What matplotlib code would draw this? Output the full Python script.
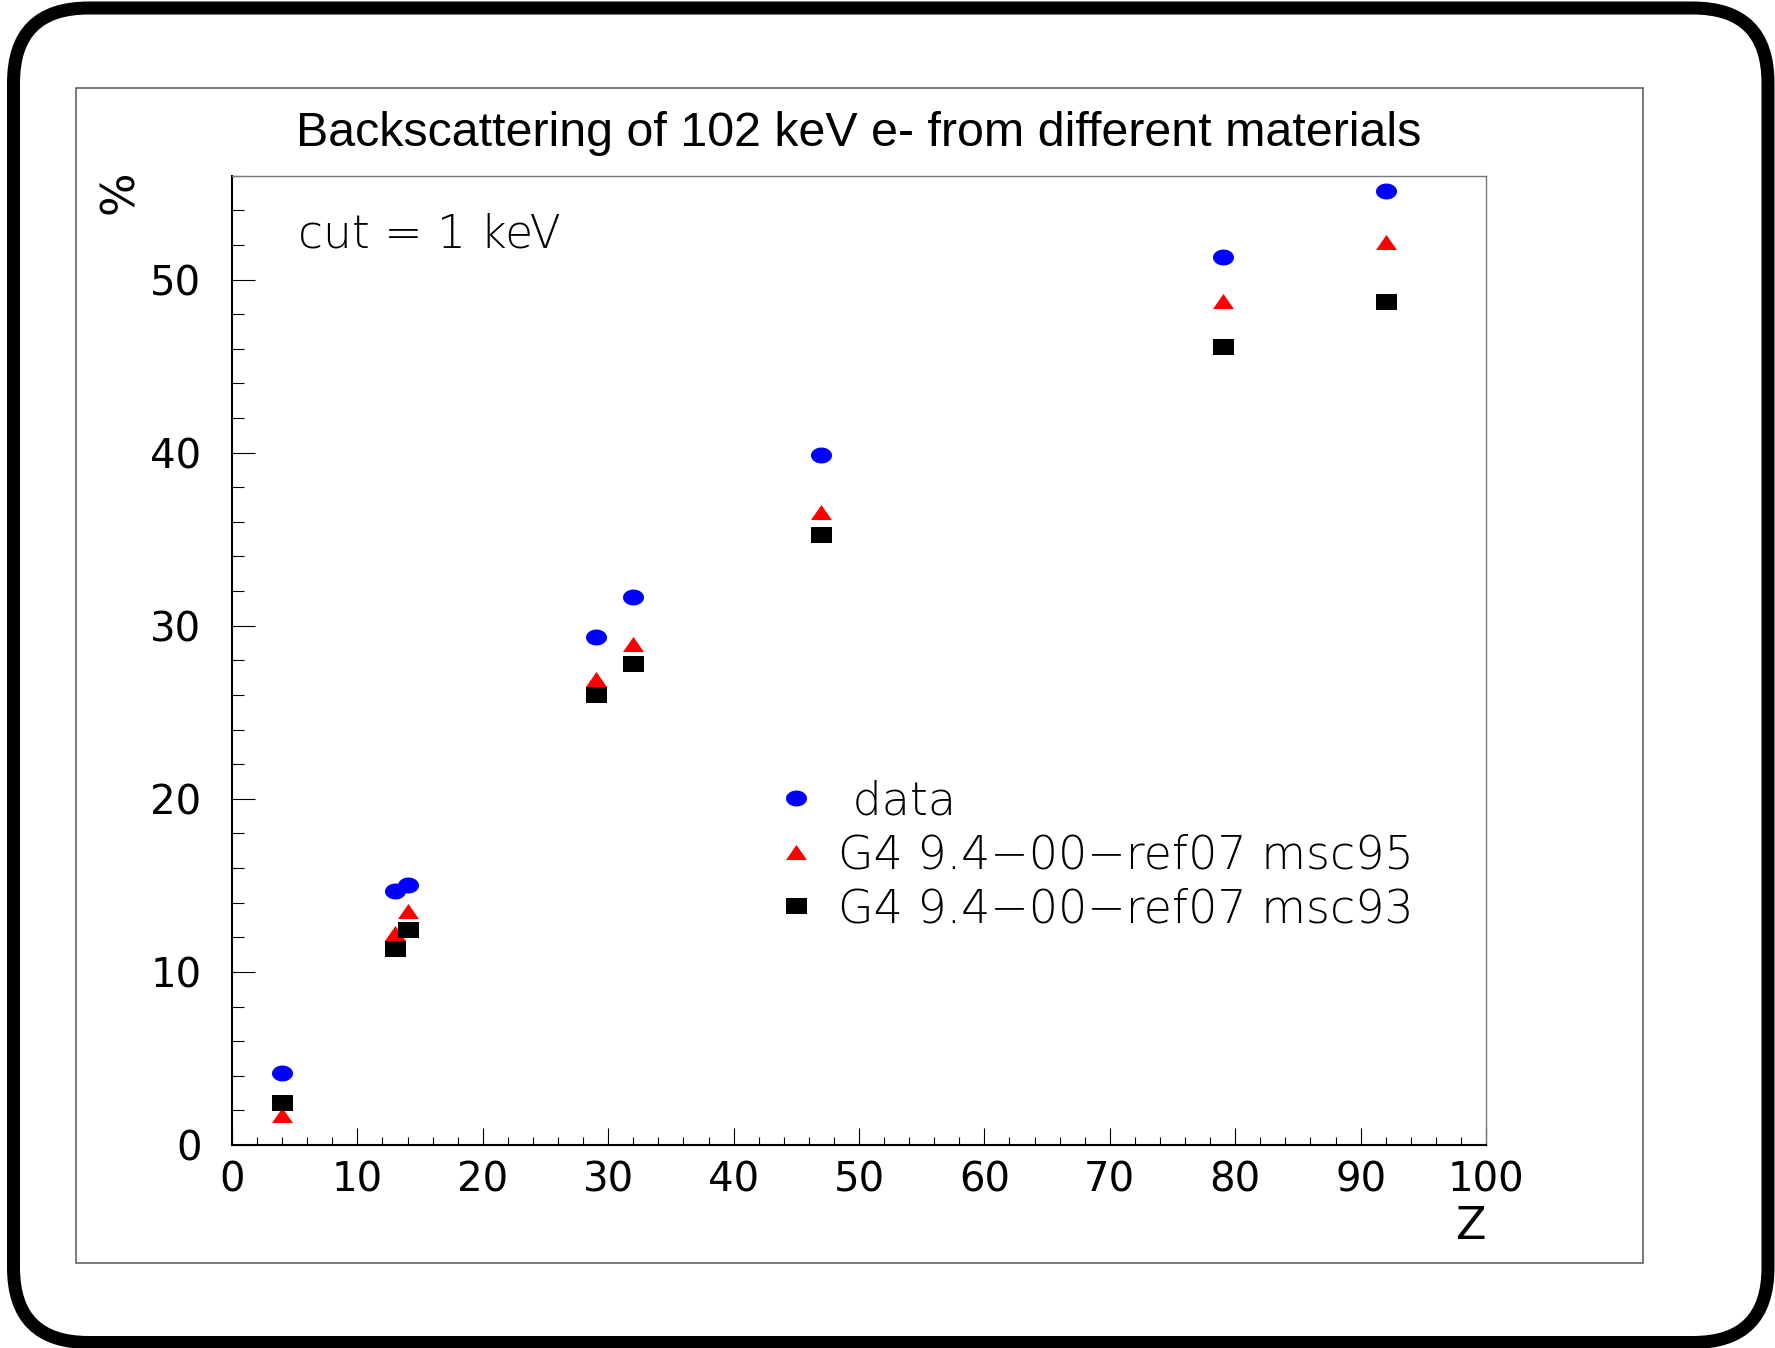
import numpy as np
import matplotlib
matplotlib.use("Agg")
import matplotlib.pyplot as plt
import matplotlib.font_manager as fm
from matplotlib.path import Path
from matplotlib.patches import FancyBboxPatch, Rectangle
from matplotlib.transforms import IdentityTransform
from matplotlib.ticker import MultipleLocator

# ---------------- data ----------------
Z = [4, 13, 14, 29, 32, 47, 79, 92]
data_vals = [4.15, 14.67, 15.04, 29.35, 31.66, 39.87, 51.28, 55.10]
msc95_vals = [1.72, 12.24, 13.53, 26.95, 28.96, 36.58, 48.76, 52.17]
msc93_vals = [2.44, 11.34, 12.43, 25.98, 27.79, 35.25, 46.08, 48.68]
labels = [" data", "G4 9.4\u221200\u2212ref07 msc95", "G4 9.4\u221200\u2212ref07 msc93"]
title = "Backscattering of 102 keV e- from different materials"
note = "cut = 1 keV"
xticks = [0, 10, 20, 30, 40, 50, 60, 70, 80, 90, 100]
yticks = [0, 10, 20, 30, 40, 50]

W, H = 1775, 1348
fig = plt.figure(figsize=(W / 100, H / 100), dpi=100)

# thin font lookup
def find_thin():
    prefs = ['DejaVu Sans', 'Open Sans', 'Lato', 'Roboto', 'Inter', 'Noto Sans']
    for fam in prefs:
        cands = []
        for f in fm.fontManager.ttflist:
            w = f.weight
            if isinstance(w, str):
                w = fm.weight_dict.get(w, 400)
            if f.name == fam and f.style == 'normal' and w <= 300:
                cands.append((abs(w - 250), f.fname))
        if cands:
            cands.sort()
            return cands[0][1]
    return None

thin_file = find_thin()
def thin_prop(size):
    if thin_file:
        return fm.FontProperties(fname=thin_file, size=size)
    return fm.FontProperties(family='DejaVu Sans', size=size)

# ---------------- frames ----------------
frame = FancyBboxPatch((13.5, H - 1342.5), 1768 - 13.5, 1342.5 - 8,
                       boxstyle="round,pad=0,rounding_size=75",
                       transform=IdentityTransform(), fill=False,
                       edgecolor='black', linewidth=13 * 0.72)
fig.add_artist(frame)
inner = Rectangle((76, H - 1262.5), 1643 - 76, 1262.5 - 87.5,
                  transform=IdentityTransform(), fill=False,
                  edgecolor='#555555', linewidth=1.1)
fig.add_artist(inner)

# ---------------- axes ----------------
left, right = 232 / W, 1486 / W
bottom, top = 1 - 1145 / H, 1 - 175.7 / H
ax = fig.add_axes([left, bottom, right - left, top - bottom])
ax.set_xlim(0, 100)
ax.set_ylim(0, 56)

# markers (ellipse / square / triangle, horizontally stretched)
t = np.linspace(0, 2 * np.pi, 60)
ell = Path(np.column_stack([np.cos(t), 0.76 * np.sin(t)]), closed=True)
sq = Path([(-1, -0.76), (1, -0.76), (1, 0.76), (-1, 0.76), (-1, -0.76)], closed=True)
tri = Path([(-1, -0.72), (1, -0.72), (0, 0.72), (-1, -0.72)], closed=True)
ms = 21 * 0.72

h1, = ax.plot(Z, data_vals, linestyle='none', marker=ell, markersize=ms,
              color='#0000ff', markeredgewidth=0, label=labels[0], clip_on=False)
h2, = ax.plot(Z, msc95_vals, linestyle='none', marker=tri, markersize=ms,
              color='#ff0000', markeredgewidth=0, label=labels[1], clip_on=False)
h3, = ax.plot(Z, msc93_vals, linestyle='none', marker=sq, markersize=ms,
              color='#000000', markeredgewidth=0, label=labels[2], clip_on=False)

# spines
for s in ['left', 'bottom']:
    ax.spines[s].set_linewidth(1.5)
    ax.spines[s].set_color('black')
for s in ['top', 'right']:
    ax.spines[s].set_linewidth(1.0)
    ax.spines[s].set_color('#777777')

ax.xaxis.set_major_locator(MultipleLocator(10))
ax.xaxis.set_minor_locator(MultipleLocator(2))
ax.yaxis.set_major_locator(MultipleLocator(10))
ax.yaxis.set_minor_locator(MultipleLocator(2))
ax.set_xticks(xticks)
ax.set_yticks(yticks)
ax.set_xticklabels([str(v) for v in xticks])
ax.set_yticklabels([str(v) for v in yticks])

tickfont = 29
ax.tick_params(axis='x', which='major', direction='in', length=17 * 0.72, width=0.8,
               labelsize=tickfont, pad=11, top=False)
ax.tick_params(axis='x', which='minor', direction='in', length=8 * 0.72, width=0.8, top=False)
ax.tick_params(axis='y', which='major', direction='in', length=23 * 0.72, width=0.8,
               labelsize=tickfont, pad=22, right=False)
ax.tick_params(axis='y', which='minor', direction='in', length=12 * 0.72, width=0.8, right=False)
for lab in ax.get_xticklabels() + ax.get_yticklabels():
    lab.set_family('DejaVu Sans')

# axis labels
ax.set_xlabel('Z', fontsize=32, family='DejaVu Sans')
ax.xaxis.set_label_coords(1.0, -(1226.5 - 1145) / 969.3)
ax.xaxis.label.set_ha('right')
ax.xaxis.label.set_va('center')

ax.set_ylabel('%', fontsize=33, family='DejaVu Sans')
ax.yaxis.set_label_coords((120 - 232) / 1254, (1145 - 192) / 969.3)
ax.yaxis.label.set_ha('center')
ax.yaxis.label.set_va('center')

# title
ax.set_title(title, fontsize=34.8, family='Liberation Sans', pad=0,
             y=(1145 - 134) / 969.3, va='center')

# note
ax.text((298 - 232) / 1254, (1145 - 235) / 969.3, note, transform=ax.transAxes,
        ha='left', va='center', fontproperties=thin_prop(32.8))

# legend
leg = ax.legend(handles=[h1, h2, h3], labels=labels, loc='upper left',
                bbox_to_anchor=((773.4 - 232) / 1254, (1145 - 779.5) / 969.3),
                frameon=False, borderpad=0, borderaxespad=0, handlelength=1.0,
                handletextpad=0.41, labelspacing=0.215, prop=thin_prop(33),
                numpoints=1)

fig.savefig('out.png', dpi=100)
